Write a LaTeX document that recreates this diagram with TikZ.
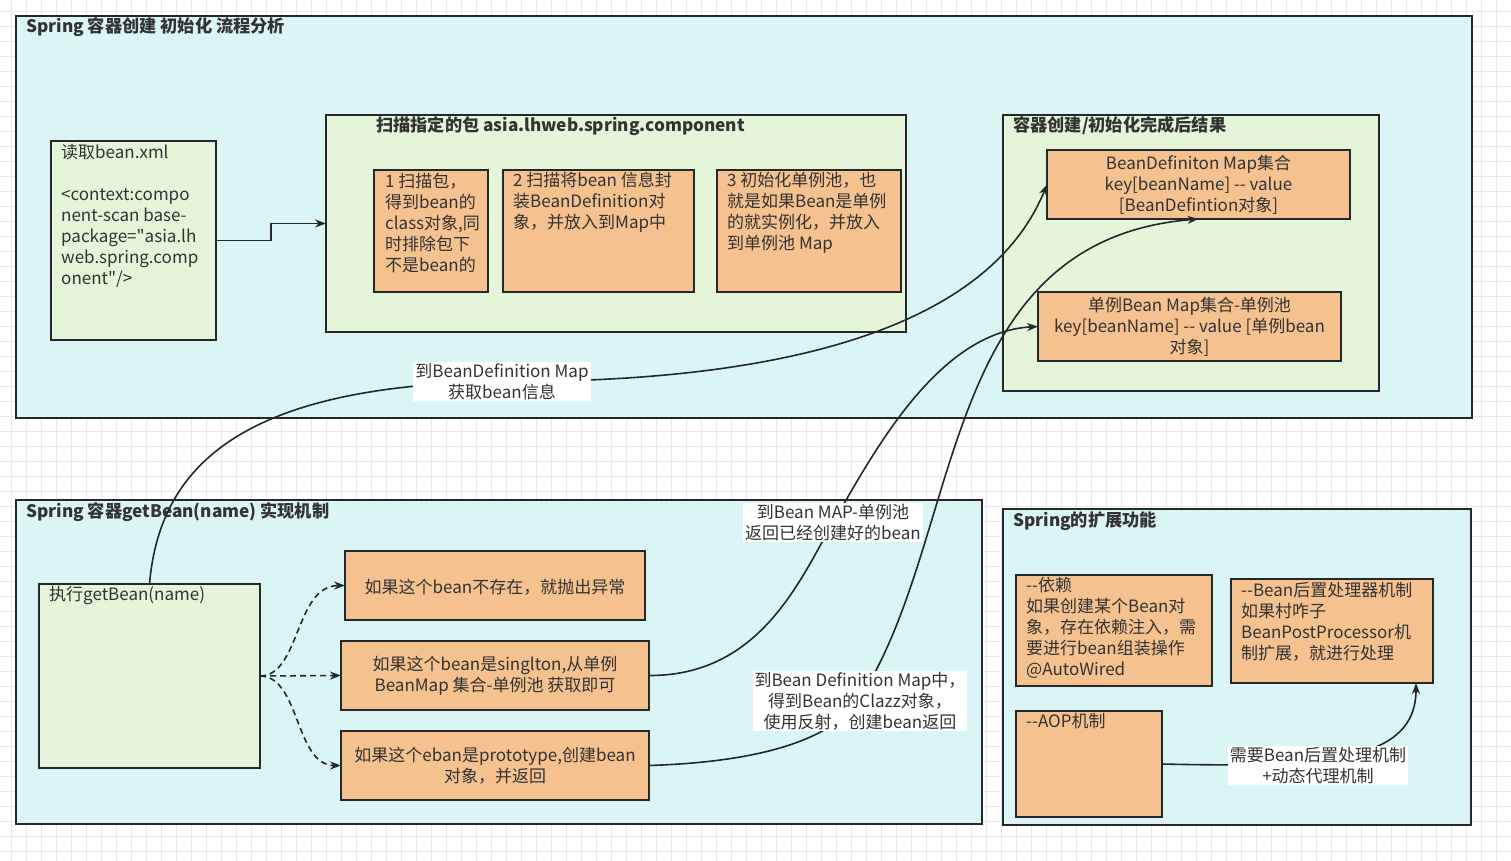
\documentclass[tikz,border=0pt]{standalone}
\usepackage{fontspec}
\newfontfamily\cjk{Noto Sans CJK SC}
\usetikzlibrary{arrows.meta}
\definecolor{cyanbg}{RGB}{219,244,244}
\definecolor{greenbg}{RGB}{228,245,218}
\definecolor{orangebg}{RGB}{245,193,143}
\definecolor{linec}{RGB}{36,40,44}
\definecolor{textc}{RGB}{51,51,51}
\definecolor{gridc}{RGB}{232,232,232}
\begin{document}
\begin{tikzpicture}[x=1pt,y=-1pt,
  box/.style={draw=linec,line width=2pt,anchor=north west,inner sep=0pt,outer sep=0pt},
  cont/.style={box,fill=cyanbg},
  gbox/.style={box,fill=greenbg},
  obox/.style={box,fill=orangebg},
  txt/.style={font=\cjk\fontsize{17}{21}\selectfont,text=textc,inner sep=0pt,align=left,anchor=west},
  ctxt/.style={txt,align=center,anchor=center},
  ttl/.style={font=\cjk\bfseries\fontsize{17.2}{21}\selectfont,text=textc,inner sep=0pt,anchor=west},
  lbl/.style={ctxt,fill=white,inner xsep=2pt,inner ysep=1pt},
  edge/.style={draw=linec,line width=1.6pt},
  arr/.style={edge,-{Stealth[length=11pt,width=8pt]}},
  dashedarr/.style={arr,dash pattern=on 6pt off 4pt},
]
\useasboundingbox (0,0) rectangle (1511,861);
\fill[white] (0,0) rectangle (1511,861);
\foreach \i in {0,...,99} { \draw[gridc,line width=0.8pt] (11.7+15*\i,0) -- (11.7+15*\i,861); }
\foreach \i in {0,...,56} { \draw[gridc,line width=0.8pt] (0,11.7+15*\i) -- (1511,11.7+15*\i); }

% containers
\node[cont,minimum width=1456pt,minimum height=402pt] (c1) at (16,16) {};
\node[ttl] (c1t) at (26,27) {Spring 容器创建 初始化 流程分析};
\node[gbox,minimum width=165pt,minimum height=199pt] (xml) at (51,141) {};
\node[txt] (xmlt) at (61,216) {读取bean.xml\\[21pt]<context:compo\\nent-scan base-\\package="asia.lh\\web.spring.comp\\onent"/>};
\node[gbox,minimum width=580pt,minimum height=217pt] (scan) at (326,115) {};
\node[ttl] (scant) at (376,126) {扫描指定的包 asia.lhweb.spring.component};
\node[obox,minimum width=114pt,minimum height=122pt] (b1) at (374,170) {};
\node[txt] (b1t) at (385,223.5) {1 扫描包，\\得到bean的\\class对象,同\\时排除包下\\不是bean的};
\node[obox,minimum width=191pt,minimum height=122pt] (b2) at (503,170) {};
\node[txt] (b2t) at (513,202) {2 扫描将bean 信息封\\装BeanDefinition对\\象，并放入到Map中};
\node[obox,minimum width=184pt,minimum height=122pt] (b3) at (717,170) {};
\node[txt] (b3t) at (727,213) {3 初始化单例池，也\\就是如果Bean是单例\\的就实例化，并放入\\到单例池 Map};
\node[gbox,minimum width=376pt,minimum height=276pt] (res) at (1003,115) {};
\node[ttl] (rest) at (1013,126) {容器创建/初始化完成后结果};
\node[obox,minimum width=303pt,minimum height=69pt] (bd) at (1047,150) {};
\node[ctxt] (bdt) at (1198.5,184.5) {BeanDefiniton Map集合\\key[beanName] -- value\\{}[BeanDefintion对象]};
\node[obox,minimum width=303pt,minimum height=69pt] (sg) at (1038,292) {};
\node[ctxt] (sgt) at (1189.5,326.5) {单例Bean Map集合-单例池\\key[beanName] -- value [单例bean\\对象]};

\node[cont,minimum width=966pt,minimum height=324pt] (c2) at (16,500) {};
\node[ttl] (c2t) at (26,512) {Spring 容器getBean(name) 实现机制};
\node[gbox,minimum width=221pt,minimum height=184pt] (gb) at (39,584) {};
\node[txt] (gbt) at (49,595) {执行getBean(name)};
\node[obox,minimum width=300pt,minimum height=69pt] (ba) at (345,551) {};
\node[ctxt] (bat) at (495,587) {如果这个bean不存在，就抛出异常};
\node[obox,minimum width=308pt,minimum height=69pt] (bb) at (341,641) {};
\node[ctxt] (bbt) at (495,676) {如果这个bean是singlton,从单例\\BeanMap 集合-单例池 获取即可};
\node[obox,minimum width=308pt,minimum height=69pt] (bc) at (341,731) {};
\node[ctxt] (bct) at (495,766) {如果这个eban是prototype,创建bean\\对象，并返回};

\node[cont,minimum width=468pt,minimum height=316pt] (c3) at (1003,509) {};
\node[ttl] (c3t) at (1013,521) {Spring的扩展功能};
\node[obox,minimum width=196pt,minimum height=111pt] (dep) at (1016,575) {};
\node[txt] (dept) at (1026,628) {-{}-依赖\\如果创建某个Bean对\\象，存在依赖注入，需\\要进行bean组装操作\\@AutoWired};
\node[obox,minimum width=202pt,minimum height=104pt] (bpp) at (1231,579) {};
\node[txt] (bppt) at (1241,622) {-{}-Bean后置处理器机制\\如果村咋子\\BeanPostProcessor机\\制扩展，就进行处理};
\node[obox,minimum width=146pt,minimum height=106pt] (aop) at (1016,711) {};
\node[txt] (aopt) at (1026,721) {-{}-AOP机制};

% connectors
\draw[arr] (xml.east) -- ++(55,0) |- (scan.west);
\coordinate (l1) at (502,381.5);
\coordinate (l2) at (833,522.5);
\coordinate (l3) at (858,701);
\coordinate (l4) at (1318,765.5);
\draw[arr] (gb.north) .. controls (160,460) and (250,385) .. (l1) .. controls (850,383) and (1000,300) .. (bd.west);
\draw[arr] (bb.east) .. controls (760,676) and (800,580) .. (l2) .. controls (870,460) and (935,332) .. (sg.west);
\draw[arr] (bc.east) .. controls (760,762) and (830,740) .. (l3) .. controls (965,540) and (935,240) .. (bd.south);
\draw[dashedarr] (gb.east) .. controls (300,676) and (295,585.5) .. (ba.west);
\draw[dashedarr] (gb.east) -- (bb.west);
\draw[dashedarr] (gb.east) .. controls (300,676) and (295,765.5) .. (bc.west);
\draw[arr] (aop.east) .. controls (1330,768) and (1416,760) .. ([xshift=-17pt]bpp.south east);

\node[lbl] (l1t) at (l1) {到BeanDefinition Map\\获取bean信息};
\node[lbl] (l2t) at (l2) {到Bean MAP-单例池\\返回已经创建好的bean};
\node[lbl] (l3t) at (860,701) {到Bean Definition Map中，\\得到Bean的Clazz对象，\\使用反射，创建bean返回};
\node[lbl] (l4t) at (l4) {需要Bean后置处理机制\\+动态代理机制};
\end{tikzpicture}
\end{document}
